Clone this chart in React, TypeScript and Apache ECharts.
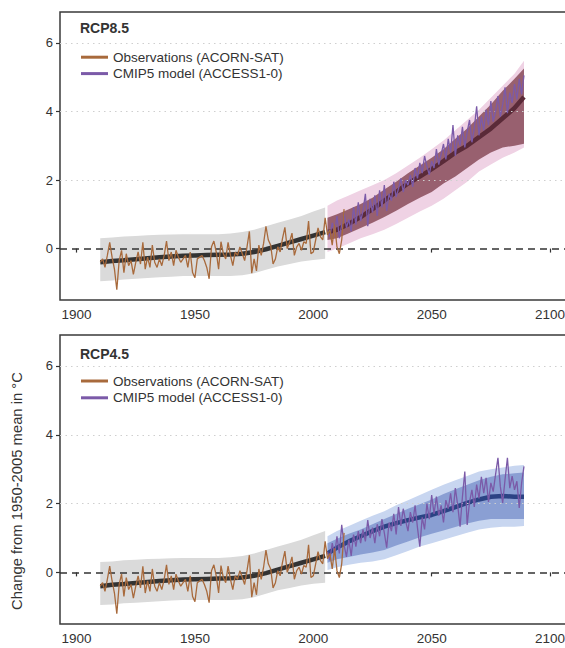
import React, { useEffect, useRef } from "react";
import * as echarts from "echarts";

// ---------- data ----------
const obsStartYear = 1910;
const obsValues = [
  -0.40, -0.30, -0.55, -0.20, 0.18, -0.25, -0.60, -1.20, -0.35, -0.05,
  -0.70, -0.15, -0.50, -0.35, -0.75, -0.40, -0.10, -0.45, 0.18, -0.60,
  -0.25, -0.55, 0.10, -0.40, -0.55, -0.30, -0.50, -0.20, 0.22, -0.35,
  -0.10, -0.50, -0.05, -0.25, -0.40, -0.30, -0.20, -0.55, -0.10, -0.70,
  -0.85, -0.30, -0.25, -0.20, -0.35, -0.55, -0.88, 0.05, 0.22, -0.10,
  -0.60, 0.20, -0.15, -0.30, 0.18, -0.20, -0.50, -0.10, -0.20, 0.05,
  -0.15, -0.35, 0.05, 0.50, -0.72, -0.30, -0.65, 0.10, -0.20, 0.15,
  0.65, 0.25, 0.10, -0.45, -0.30, 0.05, -0.10, 0.30, 0.62, 0.00,
  0.20, 0.45, -0.20, 0.05, 0.15, -0.05, 0.20, 0.15, 0.80, -0.15,
  -0.10, 0.25, 0.60, 0.35, 0.25, 0.90, 0.40, 0.55, 0.10, 0.70,
  0.05, -0.15, 0.25, 1.15,
];

const histYears = [1910, 1915, 1920, 1925, 1930, 1935, 1940, 1945, 1950, 1955, 1960, 1965, 1970, 1975, 1980, 1985, 1990, 1995, 2000, 2005];
const histMean = [-0.40, -0.36, -0.34, -0.31, -0.28, -0.25, -0.23, -0.21, -0.20, -0.19, -0.18, -0.17, -0.15, -0.10, -0.02, 0.08, 0.18, 0.28, 0.38, 0.48];
const histLower = [-0.95, -0.93, -0.90, -0.88, -0.86, -0.84, -0.82, -0.80, -0.80, -0.80, -0.80, -0.80, -0.78, -0.72, -0.62, -0.52, -0.45, -0.38, -0.33, -0.30];
const histUpper = [0.30, 0.32, 0.35, 0.37, 0.39, 0.40, 0.41, 0.42, 0.42, 0.42, 0.42, 0.44, 0.48, 0.55, 0.65, 0.75, 0.85, 0.95, 1.08, 1.20];

const projYears = [2006, 2010, 2015, 2020, 2025, 2030, 2035, 2040, 2045, 2050, 2055, 2060, 2065, 2070, 2075, 2080, 2085, 2089];
const rcp85Mean = [0.48, 0.55, 0.72, 0.92, 1.15, 1.40, 1.65, 1.90, 2.10, 2.32, 2.55, 2.80, 3.00, 3.25, 3.50, 3.80, 4.10, 4.42];
const rcp85OuterLower = [-0.10, 0.00, 0.15, 0.30, 0.42, 0.55, 0.72, 0.90, 1.08, 1.25, 1.45, 1.70, 1.95, 2.25, 2.45, 2.65, 2.80, 2.95];
const rcp85OuterUpper = [1.25, 1.40, 1.55, 1.70, 1.85, 2.00, 2.20, 2.42, 2.65, 2.90, 3.15, 3.45, 3.75, 4.05, 4.40, 4.75, 5.10, 5.48];
const rcp85InnerLower = [0.25, 0.30, 0.45, 0.60, 0.75, 0.92, 1.10, 1.30, 1.48, 1.65, 1.90, 2.10, 2.35, 2.60, 2.80, 2.95, 3.00, 3.06];
const rcp85InnerUpper = [0.90, 1.00, 1.15, 1.30, 1.48, 1.72, 1.95, 2.20, 2.42, 2.65, 2.90, 3.20, 3.50, 3.85, 4.20, 4.60, 4.95, 5.25];

const rcp45Mean = [0.55, 0.72, 0.90, 1.05, 1.20, 1.33, 1.43, 1.52, 1.60, 1.67, 1.78, 1.90, 2.02, 2.12, 2.20, 2.22, 2.20, 2.20];
const rcp45OuterLower = [0.07, 0.15, 0.22, 0.28, 0.32, 0.38, 0.50, 0.62, 0.75, 0.85, 0.95, 1.05, 1.15, 1.25, 1.30, 1.33, 1.33, 1.35];
const rcp45OuterUpper = [1.05, 1.20, 1.35, 1.50, 1.65, 1.78, 1.95, 2.10, 2.25, 2.40, 2.55, 2.68, 2.80, 2.93, 3.00, 3.05, 3.10, 3.12];
const rcp45InnerLower = [0.28, 0.38, 0.45, 0.52, 0.58, 0.65, 0.78, 0.90, 1.02, 1.12, 1.22, 1.32, 1.42, 1.50, 1.55, 1.55, 1.55, 1.55];
const rcp45InnerUpper = [0.85, 0.98, 1.12, 1.25, 1.40, 1.55, 1.70, 1.85, 1.98, 2.12, 2.28, 2.42, 2.55, 2.68, 2.78, 2.85, 2.88, 2.90];

const modelStartYear = 2006;
const access85 = [
  0.55, 0.35, 0.75, 0.45, 0.95, 0.30, 0.70, 1.05, 0.60, 0.85,
  0.50, 1.20, 0.70, 1.35, 0.80, 1.10, 1.60, 0.65, 1.45, 1.05,
  1.55, 0.95, 1.70, 1.20, 1.85, 1.10, 1.60, 1.40, 1.95, 1.50,
  1.75, 2.05, 1.65, 2.00, 1.85, 2.15, 1.80, 2.35, 2.05, 2.50,
  2.20, 2.70, 2.40, 2.15, 2.55, 2.35, 2.90, 2.45, 2.75, 3.05,
  2.60, 3.20, 2.80, 3.60, 2.70, 3.30, 3.00, 3.55, 2.95, 3.40,
  3.75, 3.10, 3.50, 4.15, 3.30, 3.85, 3.45, 4.05, 3.60, 4.30,
  3.70, 4.00, 4.45, 3.85, 4.20, 4.70, 3.95, 4.55, 4.25, 4.80,
  4.35, 4.95, 4.50, 5.05,
];
const access45 = [
  0.60, 0.35, 0.85, 0.50, 1.05, 0.55, 1.38, 0.80, 0.45, 0.95,
  0.48, 1.10, 0.75, 1.20, 0.85, 1.25, 0.90, 1.52, 1.00, 1.30,
  0.85, 1.40, 1.05, 1.55, 1.15, 0.72, 1.45, 1.20, 1.70, 1.10,
  1.90, 1.35, 1.85, 1.50, 1.20, 1.75, 1.45, 1.95, 1.30, 0.75,
  1.60, 1.25, 2.00, 1.55, 2.25, 1.70, 2.20, 1.65, 1.95, 1.45,
  2.10, 1.85, 2.30, 1.75, 2.45, 1.95, 1.33, 2.20, 2.93, 1.38,
  2.05, 2.40, 1.90, 2.55, 2.15, 2.78, 2.30, 2.75, 2.05, 2.60,
  2.35, 2.85, 3.33, 2.50, 2.02, 2.70, 3.33, 2.45, 2.80, 2.40,
  2.65, 1.87, 2.60, 3.08,
];

const xTicks = [1900, 1950, 2000, 2050, 2100];
const yTicks = [0, 2, 4, 6];
const gridLineValues = [2, 4, 6];
const panelTitles = ["RCP8.5", "RCP4.5"];
const obsName = "Observations (ACORN-SAT)";
const modelName = "CMIP5 model (ACCESS1-0)";
const yAxisTitle = "Change from 1950-2005 mean in °C";

// ---------- styling ----------
const FONT = "'Liberation Sans', Arial, Helvetica, sans-serif";
const TEXT = "#333333";
const BROWN = "#a86a3c";
const PURPLE = "#7b5aa8";

const panels = [
  {
    title: panelTitles[0],
    mean: rcp85Mean,
    outerL: rcp85OuterLower,
    outerU: rcp85OuterUpper,
    innerL: rcp85InnerLower,
    innerU: rcp85InnerUpper,
    model: access85,
    outerColor: "#efd2e4",
    innerColor: "#98606f",
    meanColor: "#5a2a38",
    top: 12,
    height: 288,
    titleTop: 21,
    legendTop: 50.2,
    legendGap: 2.4,
  },
  {
    title: panelTitles[1],
    mean: rcp45Mean,
    outerL: rcp45OuterLower,
    outerU: rcp45OuterUpper,
    innerL: rcp45InnerLower,
    innerU: rcp45InnerUpper,
    model: access45,
    outerColor: "#c8d6f0",
    innerColor: "#8a9fd3",
    meanColor: "#2b4384",
    top: 335,
    height: 289,
    titleTop: 346.5,
    legendTop: 374,
    legendGap: 2.8,
  },
];

function band(years: number[], lower: number[], upper: number[], color: string, idx: number, z: number) {
  return {
    type: "custom",
    xAxisIndex: idx,
    yAxisIndex: idx,
    z,
    silent: true,
    clip: true,
    data: years.map((y, i) => [y, lower[i], upper[i]]),
    encode: { x: 0, y: [1, 2] },
    renderItem: (params: any, api: any) => {
      if (params.dataIndex !== 0) return null;
      const pts: number[][] = [];
      for (let i = 0; i < years.length; i++) pts.push(api.coord([years[i], upper[i]]));
      for (let i = years.length - 1; i >= 0; i--) pts.push(api.coord([years[i], lower[i]]));
      return { type: "polygon", shape: { points: pts }, style: { fill: color, stroke: null } };
    },
  };
}

function buildOption() {
  const grids: any[] = [];
  const xAxes: any[] = [];
  const yAxes: any[] = [];
  const series: any[] = [];
  const titles: any[] = [];
  const legends: any[] = [];

  panels.forEach((p, idx) => {
    grids.push({
      left: 60,
      top: p.top,
      width: 506.6,
      height: p.height,
      show: true,
      borderColor: "#3a3a3a",
      borderWidth: 1.5,
      backgroundColor: "transparent",
    });
    xAxes.push({
      type: "value",
      gridIndex: idx,
      min: 1893,
      max: 2107,
      axisLine: { show: false },
      axisTick: { show: true, length: 4, lineStyle: { color: "#333", width: 1.2 }, customValues: xTicks },
      axisLabel: {
        show: true,
        margin: 7,
        fontSize: 13.5,
        color: TEXT,
        fontFamily: FONT,
        customValues: xTicks,
        formatter: (v: number) => String(v),
      },
      splitLine: { show: false },
    });
    yAxes.push({
      type: "value",
      gridIndex: idx,
      min: -1.5,
      max: 6.9,
      axisLine: { show: false },
      axisTick: { show: true, length: 4, lineStyle: { color: "#333", width: 1.2 }, customValues: yTicks },
      axisLabel: {
        show: true,
        margin: 7,
        fontSize: 13,
        color: TEXT,
        fontFamily: FONT,
        customValues: yTicks,
        formatter: (v: number) => String(v),
      },
      splitLine: { show: false },
    });

    series.push(band(histYears, histLower, histUpper, "#dadada", idx, 1));
    series.push(band(projYears, p.outerL, p.outerU, p.outerColor, idx, 2));
    series.push(band(projYears, p.innerL, p.innerU, p.innerColor, idx, 3));

    series.push({
      type: "line",
      name: "hist-mean-" + idx,
      xAxisIndex: idx,
      yAxisIndex: idx,
      z: 4,
      showSymbol: false,
      symbol: "none",
      silent: true,
      data: histYears.map((y, i) => [y, histMean[i]]),
      lineStyle: { color: "#333333", width: 4.5 },
      itemStyle: { color: "#333333" },
      markLine: {
        silent: true,
        symbol: ["none", "none"],
        label: { show: false },
        data: [
          ...gridLineValues.map((v) => ({ yAxis: v, lineStyle: { type: [1.5, 4], color: "#cfcfcf", width: 1.2 } })),
          { yAxis: 0, lineStyle: { type: [7, 5], color: "#333333", width: 1.6 } },
        ],
      },
    });
    series.push({
      type: "line",
      name: "proj-mean-" + idx,
      xAxisIndex: idx,
      yAxisIndex: idx,
      z: 4,
      showSymbol: false,
      symbol: "none",
      silent: true,
      data: projYears.map((y, i) => [y, p.mean[i]]),
      lineStyle: { color: p.meanColor, width: 4.5 },
      itemStyle: { color: p.meanColor },
    });
    series.push({
      type: "line",
      name: modelName,
      xAxisIndex: idx,
      yAxisIndex: idx,
      z: 5,
      showSymbol: false,
      symbol: "none",
      data: p.model.map((v, i) => [modelStartYear + i, v]),
      lineStyle: { color: PURPLE, width: 1.3 },
      itemStyle: { color: PURPLE },
    });
    series.push({
      type: "line",
      name: obsName,
      xAxisIndex: idx,
      yAxisIndex: idx,
      z: 6,
      showSymbol: false,
      symbol: "none",
      data: obsValues.map((v, i) => [obsStartYear + i, v]),
      lineStyle: { color: BROWN, width: 1.3 },
      itemStyle: { color: BROWN },
    });

    titles.push({
      text: p.title,
      left: 80,
      top: p.titleTop,
      padding: 0,
      textStyle: { fontSize: 14, fontWeight: "bold", color: TEXT, fontFamily: FONT },
    });
    legends.push({
      data: [obsName, modelName],
      orient: "vertical",
      left: 81,
      top: p.legendTop,
      padding: 0,
      itemWidth: 27,
      itemHeight: 3,
      itemGap: p.legendGap,
      itemTextGap: 11,
      icon: "rect",
      selectedMode: false,
      textStyle: { fontSize: 13.5, color: TEXT, fontFamily: FONT, lineHeight: 13.5 },
    });
  });

  return {
    animation: false,
    backgroundColor: "#ffffff",
    textStyle: { fontFamily: FONT },
    title: titles,
    legend: legends,
    grid: grids,
    xAxis: xAxes,
    yAxis: yAxes,
    series,
    graphic: [
      {
        type: "text",
        x: 17,
        y: 491,
        rotation: Math.PI / 2,
        style: {
          text: yAxisTitle,
          fontSize: 14.8,
          fill: TEXT,
          fontFamily: FONT,
          textAlign: "center",
          textVerticalAlign: "middle",
        },
      },
    ],
  };
}

export default function App() {
  const ref = useRef<HTMLDivElement>(null);
  useEffect(() => {
    if (!ref.current) return;
    const chart = echarts.init(ref.current, null, { renderer: "svg" });
    chart.setOption(buildOption() as any);
    return () => chart.dispose();
  }, []);
  return (
    <div
      style={{
        position: "absolute",
        left: 0,
        top: 0,
        width: 565,
        height: 648,
        overflow: "hidden",
        background: "#fff",
      }}
    >
      <div ref={ref} style={{ width: 600, height: 648 }} />
    </div>
  );
}
